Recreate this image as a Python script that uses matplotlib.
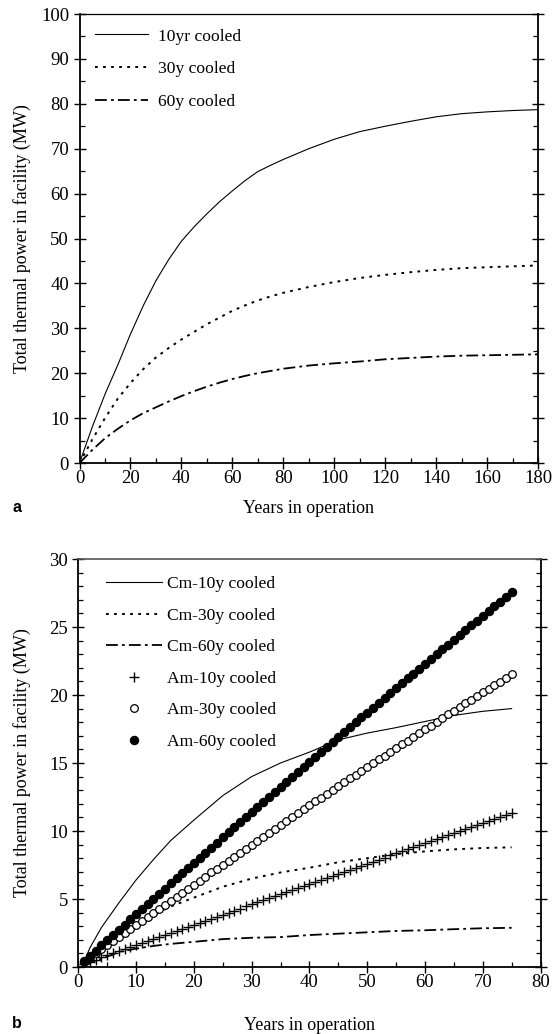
import matplotlib
matplotlib.use("Agg")
import matplotlib.pyplot as plt
from matplotlib.ticker import MultipleLocator

plt.rcParams["font.family"] = ["Liberation Serif", "DejaVu Serif"]
plt.rcParams["lines.scale_dashes"] = False

# ---------------- panel a: total thermal power, 0-180 years ----------------
years_a = [0, 5, 10, 15, 20, 25, 30, 35, 40, 45, 50, 55, 60, 65, 70, 75, 80, 90,
           100, 110, 120, 130, 140, 150, 160, 170, 180]
power_10y = [0, 8.0, 15.3, 21.8, 28.7, 35.0, 40.6, 45.3, 49.4, 52.6, 55.5, 58.2,
             60.6, 62.9, 64.9, 66.3, 67.6, 70.0, 72.1, 73.8, 75.0, 76.1, 77.1,
             77.8, 78.2, 78.5, 78.7]
power_30y = [0, 5.2, 10.0, 14.3, 17.8, 20.9, 23.5, 25.6, 27.5, 29.2, 30.9, 32.4,
             33.9, 35.1, 36.2, 37.1, 37.9, 39.2, 40.3, 41.2, 41.9, 42.5, 43.0,
             43.4, 43.6, 43.8, 44.0]
power_60y = [0, 2.9, 5.5, 7.6, 9.5, 11.1, 12.4, 13.7, 14.9, 16.0, 17.0, 17.9,
             18.7, 19.4, 20.0, 20.5, 21.0, 21.7, 22.2, 22.6, 23.1, 23.4, 23.7,
             23.9, 24.0, 24.1, 24.2]
labels_a = ["10yr cooled", "30y cooled", "60y cooled"]

# ---------------- panel b: Cm and Am contributions, 0-75 years ----------------
years_cm = [1, 2, 4, 7, 10, 13, 16, 20, 25, 30, 35, 40, 45, 50, 55, 60, 65, 70, 75]
cm_10y = [0.4, 1.4, 2.9, 4.7, 6.4, 7.9, 9.3, 10.8, 12.6, 14.0, 15.0, 15.8, 16.7,
          17.2, 17.6, 18.05, 18.5, 18.8, 19.0]
cm_30y = [0.25, 0.6, 1.3, 2.3, 3.0, 3.8, 4.45, 5.1, 5.9, 6.5, 6.95, 7.3, 7.7,
          8.0, 8.3, 8.5, 8.65, 8.75, 8.8]
cm_60y = [0.15, 0.3, 0.6, 1.1, 1.35, 1.55, 1.7, 1.85, 2.05, 2.15, 2.2, 2.35,
          2.45, 2.55, 2.65, 2.7, 2.78, 2.85, 2.88]

years_am = list(range(1, 76))
am_10y = [0.25, 0.40, 0.55, 0.70, 0.85, 1.00, 1.15, 1.30, 1.45, 1.60,
          1.75, 1.90, 2.05, 2.20, 2.35, 2.50, 2.65, 2.80, 2.95, 3.10,
          3.25, 3.40, 3.55, 3.70, 3.85, 4.00, 4.15, 4.30, 4.45, 4.60,
          4.75, 4.90, 5.05, 5.20, 5.35, 5.50, 5.65, 5.80, 5.95, 6.10,
          6.25, 6.40, 6.55, 6.70, 6.85, 7.00, 7.15, 7.30, 7.45, 7.60,
          7.75, 7.90, 8.05, 8.20, 8.35, 8.50, 8.65, 8.80, 8.95, 9.10,
          9.25, 9.40, 9.55, 9.70, 9.85, 10.00, 10.15, 10.30, 10.45, 10.60,
          10.75, 10.90, 11.05, 11.20, 11.35]
am_30y = [0.40, 0.70, 1.00, 1.30, 1.60, 1.90, 2.20, 2.50, 2.80, 3.10,
          3.40, 3.70, 4.00, 4.29, 4.59, 4.88, 5.18, 5.47, 5.77, 6.06,
          6.36, 6.65, 6.95, 7.24, 7.53, 7.83, 8.12, 8.41, 8.70, 9.00,
          9.29, 9.58, 9.87, 10.16, 10.45, 10.74, 11.03, 11.32, 11.60, 11.89,
          12.17, 12.46, 12.74, 13.02, 13.31, 13.59, 13.87, 14.15, 14.43, 14.71,
          14.99, 15.27, 15.55, 15.82, 16.10, 16.38, 16.65, 16.93, 17.20, 17.48,
          17.75, 18.02, 18.30, 18.57, 18.84, 19.11, 19.38, 19.65, 19.92, 20.19,
          20.45, 20.72, 20.99, 21.25, 21.52]
am_60y = [0.45, 0.83, 1.21, 1.59, 1.97, 2.35, 2.73, 3.11, 3.50, 3.88,
          4.26, 4.64, 5.01, 5.39, 5.77, 6.15, 6.52, 6.90, 7.28, 7.65,
          8.03, 8.40, 8.78, 9.15, 9.53, 9.90, 10.27, 10.65, 11.02, 11.39,
          11.76, 12.13, 12.50, 12.87, 13.24, 13.61, 13.98, 14.35, 14.72, 15.08,
          15.45, 15.81, 16.18, 16.54, 16.90, 17.27, 17.63, 17.99, 18.35, 18.71,
          19.07, 19.43, 19.79, 20.15, 20.51, 20.86, 21.22, 21.58, 21.93, 22.29,
          22.64, 23.00, 23.35, 23.71, 24.06, 24.41, 24.76, 25.12, 25.47, 25.82,
          26.17, 26.52, 26.87, 27.22, 27.57]
labels_b = ["Cm-10y cooled", "Cm-30y cooled", "Cm-60y cooled",
            "Am-10y cooled", "Am-30y cooled", "Am-60y cooled"]

ylabel = "Total thermal power in facility (MW)"
xlabel = "Years in operation"

W, H = 557, 1034
fig = plt.figure(figsize=(W / 100, H / 100), dpi=100)


def pixel_box(left, top, right, bottom):
    return [left / W, 1 - bottom / H, (right - left) / W, (bottom - top) / H]


ax1 = fig.add_axes(pixel_box(79.5, 14, 538, 463))
ax2 = fig.add_axes(pixel_box(78.3, 559, 540.5, 967))

DOT = (0, (2.0, 3.8))
DASHDOT = (0, (8.5, 3.0, 2.0, 3.0))
TICK_FS = 13.5
LEGEND_FS = 12.6


def style_axes(ax):
    ax.tick_params(which="major", direction="inout", length=9, width=1.0,
                   labelsize=TICK_FS, top=False, right=True, color="black")
    ax.tick_params(which="minor", direction="in", length=3.5, width=0.9,
                   top=False, right=True)
    ax.tick_params(axis="x", which="major", pad=0.5)
    ax.tick_params(axis="y", which="major", pad=3.0)
    for side in ("left", "bottom", "right"):
        ax.spines[side].set_linewidth(1.3)
    ax.spines["top"].set_linewidth(0.9)


# panel a
ax1.plot(years_a, power_10y, color="black", lw=0.8, label=labels_a[0])
ax1.plot(years_a, power_30y, color="black", lw=1.4, linestyle=DOT, label=labels_a[1])
ax1.plot(years_a, power_60y, color="black", lw=1.3, linestyle=DASHDOT, label=labels_a[2])
ax1.set_xlim(0, 180)
ax1.set_ylim(0, 100)
ax1.xaxis.set_major_locator(MultipleLocator(20))
ax1.xaxis.set_minor_locator(MultipleLocator(10))
ax1.yaxis.set_major_locator(MultipleLocator(10))
ax1.yaxis.set_minor_locator(MultipleLocator(5))
style_axes(ax1)
ax1.set_xlabel(xlabel, fontsize=13)
ax1.set_ylabel(ylabel, fontsize=13)
ax1.xaxis.set_label_coords(0.5, -0.082)
ax1.yaxis.set_label_coords(-0.105, 0.5)
ax1.legend(loc="upper left", bbox_to_anchor=(0.034, 0.968), frameon=False,
           fontsize=LEGEND_FS, handlelength=3.0, handletextpad=0.57,
           labelspacing=0.93, borderpad=0, borderaxespad=0)

# panel b
ax2.plot(years_cm, cm_10y, color="black", lw=0.8, label=labels_b[0])
ax2.plot(years_cm, cm_30y, color="black", lw=1.4, linestyle=DOT, label=labels_b[1])
ax2.plot(years_cm, cm_60y, color="black", lw=1.3, linestyle=DASHDOT, label=labels_b[2])
ax2.plot(years_am, am_10y, linestyle="none", marker="+", ms=7, mew=1.0,
         color="black", label=labels_b[3])
ax2.plot(years_am, am_30y, linestyle="none", marker="o", ms=5.5, mew=0.9,
         mfc="white", mec="black", label=labels_b[4])
ax2.plot(years_am, am_60y, linestyle="none", marker="o", ms=6, mew=0.8,
         mfc="black", mec="black", label=labels_b[5])
ax2.set_xlim(0, 80)
ax2.set_ylim(0, 30)
ax2.xaxis.set_major_locator(MultipleLocator(10))
ax2.xaxis.set_minor_locator(MultipleLocator(5))
ax2.yaxis.set_major_locator(MultipleLocator(5))
ax2.yaxis.set_minor_locator(MultipleLocator(1))
style_axes(ax2)
ax2.spines["top"].set_color("#555555")
ax2.spines["top"].set_linewidth(1.2)
ax2.set_xlabel(xlabel, fontsize=13)
ax2.set_ylabel(ylabel, fontsize=13)
ax2.xaxis.set_label_coords(0.5, -0.1225)
ax2.yaxis.set_label_coords(-0.102, 0.5)
ax2.legend(loc="upper left", bbox_to_anchor=(0.061, 0.958), frameon=False,
           fontsize=LEGEND_FS, handlelength=3.15, handletextpad=0.29,
           labelspacing=0.87, borderpad=0, borderaxespad=0, numpoints=1)

# panel letters
fig.text(17 / W, 1 - 508 / H, "a", family="Liberation Sans", weight="bold",
         fontsize=11.5, ha="center", va="center")
fig.text(17 / W, 1 - 1023 / H, "b", family="Liberation Sans", weight="bold",
         fontsize=11.5, ha="center", va="center")

fig.savefig("out.png", dpi=100)
